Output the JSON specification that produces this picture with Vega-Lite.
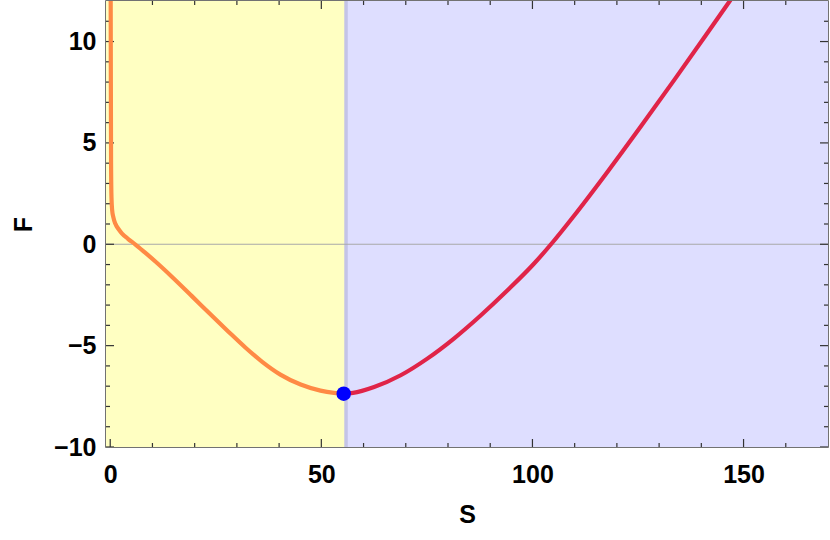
{
  "$schema": "https://vega.github.io/schema/vega-lite/v6.json",
  "width": 722,
  "height": 446,
  "autosize": {"type": "none"},
  "padding": {"left": 106, "top": 1, "right": 2, "bottom": 93},
  "background": "white",
  "config": {
    "view": {"stroke": "#444444", "strokeWidth": 1.5},
    "font": "Liberation Sans",
    "axis": {
      "grid": false,
      "domain": false,
      "ticks": false,
      "tickSize": 0,
      "labelFont": "Liberation Sans",
      "labelFontWeight": "bold",
      "labelFontSize": 25,
      "labelColor": "black",
      "titleFont": "Liberation Sans",
      "titleFontWeight": "bold",
      "titleFontSize": 25,
      "titleColor": "black"
    }
  },
  "datasets": {
    "regions": [
      {"from": -1, "to": 55.85, "phase": "small"},
      {"from": 55.85, "to": 170, "phase": "large"}
    ],
    "boundary": [{"S": 55.85}],
    "zero": [{"F": 0}],
    "xticks": [
      {"S": 0, "F": -10, "kind": "major"}, {"S": 10, "F": -10, "kind": "minor"}, {"S": 20, "F": -10, "kind": "minor"}, {"S": 30, "F": -10, "kind": "minor"}, {"S": 40, "F": -10, "kind": "minor"},
      {"S": 50, "F": -10, "kind": "major"}, {"S": 60, "F": -10, "kind": "minor"}, {"S": 70, "F": -10, "kind": "minor"}, {"S": 80, "F": -10, "kind": "minor"}, {"S": 90, "F": -10, "kind": "minor"},
      {"S": 100, "F": -10, "kind": "major"}, {"S": 110, "F": -10, "kind": "minor"}, {"S": 120, "F": -10, "kind": "minor"}, {"S": 130, "F": -10, "kind": "minor"}, {"S": 140, "F": -10, "kind": "minor"},
      {"S": 150, "F": -10, "kind": "major"}, {"S": 160, "F": -10, "kind": "minor"},
      {"S": 0, "F": 12, "kind": "major"}, {"S": 10, "F": 12, "kind": "minor"}, {"S": 20, "F": 12, "kind": "minor"}, {"S": 30, "F": 12, "kind": "minor"}, {"S": 40, "F": 12, "kind": "minor"},
      {"S": 50, "F": 12, "kind": "major"}, {"S": 60, "F": 12, "kind": "minor"}, {"S": 70, "F": 12, "kind": "minor"}, {"S": 80, "F": 12, "kind": "minor"}, {"S": 90, "F": 12, "kind": "minor"},
      {"S": 100, "F": 12, "kind": "major"}, {"S": 110, "F": 12, "kind": "minor"}, {"S": 120, "F": 12, "kind": "minor"}, {"S": 130, "F": 12, "kind": "minor"}, {"S": 140, "F": 12, "kind": "minor"},
      {"S": 150, "F": 12, "kind": "major"}, {"S": 160, "F": 12, "kind": "minor"}
    ],
    "yticks": [
      {"S": -1, "F": -10, "kind": "major"}, {"S": -1, "F": -9, "kind": "minor"}, {"S": -1, "F": -8, "kind": "minor"}, {"S": -1, "F": -7, "kind": "minor"}, {"S": -1, "F": -6, "kind": "minor"},
      {"S": -1, "F": -5, "kind": "major"}, {"S": -1, "F": -4, "kind": "minor"}, {"S": -1, "F": -3, "kind": "minor"}, {"S": -1, "F": -2, "kind": "minor"}, {"S": -1, "F": -1, "kind": "minor"},
      {"S": -1, "F": 0, "kind": "major"}, {"S": -1, "F": 1, "kind": "minor"}, {"S": -1, "F": 2, "kind": "minor"}, {"S": -1, "F": 3, "kind": "minor"}, {"S": -1, "F": 4, "kind": "minor"},
      {"S": -1, "F": 5, "kind": "major"}, {"S": -1, "F": 6, "kind": "minor"}, {"S": -1, "F": 7, "kind": "minor"}, {"S": -1, "F": 8, "kind": "minor"}, {"S": -1, "F": 9, "kind": "minor"},
      {"S": -1, "F": 10, "kind": "major"}, {"S": -1, "F": 11, "kind": "minor"},
      {"S": 170, "F": -10, "kind": "major"}, {"S": 170, "F": -9, "kind": "minor"}, {"S": 170, "F": -8, "kind": "minor"}, {"S": 170, "F": -7, "kind": "minor"}, {"S": 170, "F": -6, "kind": "minor"},
      {"S": 170, "F": -5, "kind": "major"}, {"S": 170, "F": -4, "kind": "minor"}, {"S": 170, "F": -3, "kind": "minor"}, {"S": 170, "F": -2, "kind": "minor"}, {"S": 170, "F": -1, "kind": "minor"},
      {"S": 170, "F": 0, "kind": "major"}, {"S": 170, "F": 1, "kind": "minor"}, {"S": 170, "F": 2, "kind": "minor"}, {"S": 170, "F": 3, "kind": "minor"}, {"S": 170, "F": 4, "kind": "minor"},
      {"S": 170, "F": 5, "kind": "major"}, {"S": 170, "F": 6, "kind": "minor"}, {"S": 170, "F": 7, "kind": "minor"}, {"S": 170, "F": 8, "kind": "minor"}, {"S": 170, "F": 9, "kind": "minor"},
      {"S": 170, "F": 10, "kind": "major"}, {"S": 170, "F": 11, "kind": "minor"}
    ],
    "curve": [
      {"branch": "small", "S": 0.1, "F": 13},
      {"branch": "small", "S": 0.15, "F": 8},
      {"branch": "small", "S": 0.2, "F": 4},
      {"branch": "small", "S": 0.3, "F": 2.3},
      {"branch": "small", "S": 0.45, "F": 1.7},
      {"branch": "small", "S": 0.75, "F": 1.33},
      {"branch": "small", "S": 1.2, "F": 1.02},
      {"branch": "small", "S": 2.0, "F": 0.74},
      {"branch": "small", "S": 2.8, "F": 0.53},
      {"branch": "small", "S": 4.2, "F": 0.27},
      {"branch": "small", "S": 5.9, "F": 0.0},
      {"branch": "small", "S": 8.2, "F": -0.4},
      {"branch": "small", "S": 10.7, "F": -0.85},
      {"branch": "small", "S": 14.6, "F": -1.6},
      {"branch": "small", "S": 19.4, "F": -2.57},
      {"branch": "small", "S": 24.1, "F": -3.53},
      {"branch": "small", "S": 28.0, "F": -4.31},
      {"branch": "small", "S": 32.0, "F": -5.09},
      {"branch": "small", "S": 36.0, "F": -5.8},
      {"branch": "small", "S": 40.3, "F": -6.43},
      {"branch": "small", "S": 45.1, "F": -6.92},
      {"branch": "small", "S": 49.8, "F": -7.22},
      {"branch": "small", "S": 53.0, "F": -7.33},
      {"branch": "small", "S": 55.3, "F": -7.37},
      {"branch": "large", "S": 55.3, "F": -7.37},
      {"branch": "large", "S": 57.5, "F": -7.33},
      {"branch": "large", "S": 62.5, "F": -7.04},
      {"branch": "large", "S": 68.8, "F": -6.46},
      {"branch": "large", "S": 75.1, "F": -5.64},
      {"branch": "large", "S": 81.4, "F": -4.65},
      {"branch": "large", "S": 87.8, "F": -3.5},
      {"branch": "large", "S": 94.1, "F": -2.27},
      {"branch": "large", "S": 100.4, "F": -0.95},
      {"branch": "large", "S": 104.8, "F": 0.1},
      {"branch": "large", "S": 109.9, "F": 1.42},
      {"branch": "large", "S": 117.8, "F": 3.58},
      {"branch": "large", "S": 125.7, "F": 5.82},
      {"branch": "large", "S": 133.6, "F": 8.11},
      {"branch": "large", "S": 141.6, "F": 10.47},
      {"branch": "large", "S": 146.7, "F": 11.99},
      {"branch": "large", "S": 148.5, "F": 12.53}
    ],
    "critical": [{"S": 55.3, "F": -7.37}]
  },
  "resolve": {"axis": {"x": "independent", "y": "independent"}},
  "layer": [
    {
      "data": {"name": "regions"},
      "mark": {"type": "rect"},
      "encoding": {
        "x": {
          "field": "from", "type": "quantitative", "title": "S",
          "scale": {"domain": [-1, 170], "nice": false, "zero": false},
          "axis": {
            "orient": "bottom",
            "values": [0, 50, 100, 150],
            "labelPadding": 15,
            "titlePadding": 15,
            "labelFlush": false
          }
        },
        "x2": {"field": "to"},
        "fill": {
          "field": "phase", "type": "nominal", "legend": null,
          "scale": {"domain": ["small", "large"], "range": ["#FFFFC2", "#DEDEFF"]}
        }
      }
    },
    {
      "data": {"name": "boundary"},
      "mark": {"type": "rule", "color": "#C4C4E6", "strokeWidth": 3.5},
      "encoding": {
        "x": {
          "field": "S", "type": "quantitative",
          "scale": {"domain": [-1, 170], "nice": false, "zero": false},
          "axis": null
        }
      }
    },
    {
      "data": {"name": "zero"},
      "mark": {"type": "rule", "color": "#A8A8A8", "strokeWidth": 1.2},
      "encoding": {
        "y": {
          "field": "F", "type": "quantitative", "title": "F",
          "scale": {"domain": [-10, 12], "nice": false, "zero": false},
          "axis": {
            "orient": "left",
            "values": [-10, -5, 0, 5, 10],
            "labelPadding": 10,
            "titlePadding": 17,
            "labelFlush": false
          }
        }
      }
    },
    {
      "data": {"name": "xticks"},
      "mark": {"type": "tick", "orient": "vertical", "thickness": 1.2, "color": "#333333", "opacity": 1, "clip": true},
      "encoding": {
        "x": {"field": "S", "type": "quantitative", "scale": {"domain": [-1, 170], "nice": false, "zero": false}, "axis": null},
        "y": {"field": "F", "type": "quantitative", "scale": {"domain": [-10, 12], "nice": false, "zero": false}, "axis": null},
        "size": {"field": "kind", "type": "nominal", "legend": null, "scale": {"domain": ["major", "minor"], "range": [16, 8]}}
      }
    },
    {
      "data": {"name": "yticks"},
      "mark": {"type": "tick", "orient": "horizontal", "thickness": 1.2, "color": "#333333", "opacity": 1, "clip": true},
      "encoding": {
        "x": {"field": "S", "type": "quantitative", "scale": {"domain": [-1, 170], "nice": false, "zero": false}, "axis": null},
        "y": {"field": "F", "type": "quantitative", "scale": {"domain": [-10, 12], "nice": false, "zero": false}, "axis": null},
        "size": {"field": "kind", "type": "nominal", "legend": null, "scale": {"domain": ["major", "minor"], "range": [16, 8]}}
      }
    },
    {
      "data": {"name": "curve"},
      "mark": {"type": "line", "strokeWidth": 4.2, "clip": true, "interpolate": "monotone"},
      "encoding": {
        "x": {"field": "S", "type": "quantitative", "scale": {"domain": [-1, 170], "nice": false, "zero": false}, "axis": null},
        "y": {"field": "F", "type": "quantitative", "scale": {"domain": [-10, 12], "nice": false, "zero": false}, "axis": null},
        "stroke": {
          "field": "branch", "type": "nominal", "legend": null,
          "scale": {"domain": ["small", "large"], "range": ["#FF8A45", "#E02448"]}
        },
        "order": {"field": "S", "type": "quantitative"}
      }
    },
    {
      "data": {"name": "critical"},
      "mark": {"type": "point", "filled": true, "opacity": 1, "size": 210, "color": "#0000FF"},
      "encoding": {
        "x": {"field": "S", "type": "quantitative", "scale": {"domain": [-1, 170], "nice": false, "zero": false}, "axis": null},
        "y": {"field": "F", "type": "quantitative", "scale": {"domain": [-10, 12], "nice": false, "zero": false}, "axis": null}
      }
    }
  ]
}
